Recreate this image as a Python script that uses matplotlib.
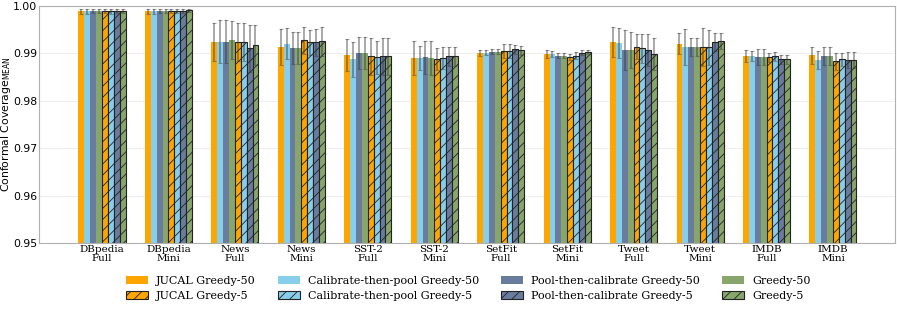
import numpy as np
import matplotlib
matplotlib.use('Agg')
import matplotlib.pyplot as plt

# datasets (tick labels)
datasets = ['DBpedia\nFull', 'DBpedia\nMini', 'News\nFull', 'News\nMini', 'SST-2\nFull', 'SST-2\nMini',
            'SetFit\nFull', 'SetFit\nMini', 'Tweet\nFull', 'Tweet\nMini', 'IMDB\nFull', 'IMDB\nMini']

# mean coverage per method
jucal_50 = [0.9988, 0.9988, 0.9924, 0.9913, 0.9896, 0.9890, 0.9900, 0.9898, 0.9924, 0.9920, 0.9894, 0.9896]
calib_50 = [0.9988, 0.9988, 0.9924, 0.9920, 0.9887, 0.9890, 0.9901, 0.9898, 0.9922, 0.9913, 0.9894, 0.9885]
pool_50 = [0.9988, 0.9988, 0.9924, 0.9911, 0.9900, 0.9891, 0.9903, 0.9895, 0.9906, 0.9913, 0.9891, 0.9894]
greedy_50 = [0.9988, 0.9988, 0.9927, 0.9911, 0.9900, 0.9890, 0.9903, 0.9895, 0.9906, 0.9913, 0.9892, 0.9894]
jucal_5 = [0.9988, 0.9988, 0.9924, 0.9927, 0.9893, 0.9887, 0.9904, 0.9892, 0.9914, 0.9913, 0.9891, 0.9883]
calib_5 = [0.9988, 0.9988, 0.9924, 0.9923, 0.9891, 0.9889, 0.9904, 0.9895, 0.9910, 0.9912, 0.9893, 0.9887]
pool_5 = [0.9988, 0.9989, 0.9910, 0.9923, 0.9893, 0.9893, 0.9908, 0.9901, 0.9906, 0.9923, 0.9887, 0.9885]
greedy_5 = [0.9988, 0.9990, 0.9917, 0.9925, 0.9893, 0.9893, 0.9906, 0.9902, 0.9898, 0.9925, 0.9887, 0.9885]

# error bar half widths
jucal_50_err = [0.0005, 0.0005, 0.0040, 0.0037, 0.0033, 0.0035, 0.0006, 0.0008, 0.0032, 0.0022, 0.0013, 0.0018]
calib_50_err = [0.0005, 0.0005, 0.0045, 0.0033, 0.0037, 0.0025, 0.0005, 0.0006, 0.0032, 0.0037, 0.0011, 0.0019]
pool_50_err = [0.0004, 0.0004, 0.0045, 0.0034, 0.0033, 0.0034, 0.0005, 0.0006, 0.0042, 0.0018, 0.0017, 0.0018]
greedy_50_err = [0.0004, 0.0004, 0.0040, 0.0034, 0.0033, 0.0035, 0.0005, 0.0006, 0.0038, 0.0018, 0.0016, 0.0018]
jucal_5_err = [0.0004, 0.0004, 0.0040, 0.0028, 0.0038, 0.0023, 0.0015, 0.0007, 0.0026, 0.0041, 0.0010, 0.0018]
calib_5_err = [0.0005, 0.0004, 0.0040, 0.0026, 0.0035, 0.0023, 0.0015, 0.0007, 0.0030, 0.0036, 0.0009, 0.0014]
pool_5_err = [0.0004, 0.0005, 0.0050, 0.0028, 0.0038, 0.0021, 0.0009, 0.0005, 0.0034, 0.0019, 0.0010, 0.0017]
greedy_5_err = [0.0004, 0.0004, 0.0042, 0.0030, 0.0038, 0.0021, 0.0009, 0.0004, 0.0034, 0.0017, 0.0010, 0.0017]

labels = ['JUCAL Greedy-50', 'Calibrate-then-pool Greedy-50', 'Pool-then-calibrate Greedy-50', 'Greedy-50',
          'JUCAL Greedy-5', 'Calibrate-then-pool Greedy-5', 'Pool-then-calibrate Greedy-5', 'Greedy-5']
series = [jucal_50, calib_50, pool_50, greedy_50, jucal_5, calib_5, pool_5, greedy_5]
errors = [jucal_50_err, calib_50_err, pool_50_err, greedy_50_err,
          jucal_5_err, calib_5_err, pool_5_err, greedy_5_err]
colors = ['#FFA500', '#87CEEB', '#6A7C9E', '#87A66B'] * 2

plt.rcParams['hatch.linewidth'] = 0.6

fig = plt.figure(figsize=(8.97, 3.09), dpi=100)
ax = fig.add_axes([0.0435, 0.2136, 0.954, 0.768])

x = np.arange(len(datasets))
width = 0.0885
handles = []
for i, (vals, err) in enumerate(zip(series, errors)):
    pos = x + (i - 3.5) * width
    hatched = i >= 4
    b = ax.bar(pos, vals, width, color=colors[i], label=labels[i],
               hatch='///' if hatched else None,
               edgecolor='#222222' if hatched else colors[i],
               linewidth=0.8 if hatched else 0, zorder=2)
    ax.errorbar(pos, vals, yerr=err, fmt='none', ecolor='#333333', alpha=0.45,
                elinewidth=1.3, capsize=1.3, capthick=0.8, zorder=3)
    handles.append(b)

ax.set_ylim(0.95, 1.0)
ax.set_xlim(-0.948, 11.93)
ax.set_yticks([0.95, 0.96, 0.97, 0.98, 0.99, 1.00])
ax.set_yticklabels(['0.95', '0.96', '0.97', '0.98', '0.99', '1.00'], fontsize=7.8)
ax.set_xticks(x)
ax.set_xticklabels(datasets, fontsize=7.5, family='DejaVu Serif', linespacing=0.95)
ax.tick_params(axis='both', length=0, pad=1.5)
ax.set_ylabel('Conformal Coverage$_{\\mathrm{MEAN}}$', fontsize=7.8)
ax.yaxis.set_label_coords(-0.0305, 0.5)
ax.grid(axis='y', color='#eeeeee', linewidth=0.8, zorder=0)
ax.set_axisbelow(True)
for s in ax.spines.values():
    s.set_color('#b0b0b0')

order = [0, 4, 1, 5, 2, 6, 3, 7]
leg = fig.legend([handles[k] for k in order], [labels[k] for k in order],
                 loc='lower center', bbox_to_anchor=(0.522, 0.0), ncol=4, frameon=False,
                 prop={'family': 'DejaVu Serif', 'size': 8},
                 handlelength=2.0, handleheight=0.75, handletextpad=0.7,
                 columnspacing=2.0, labelspacing=0.45, borderpad=0.2)

fig.savefig('out.png', dpi=100)
